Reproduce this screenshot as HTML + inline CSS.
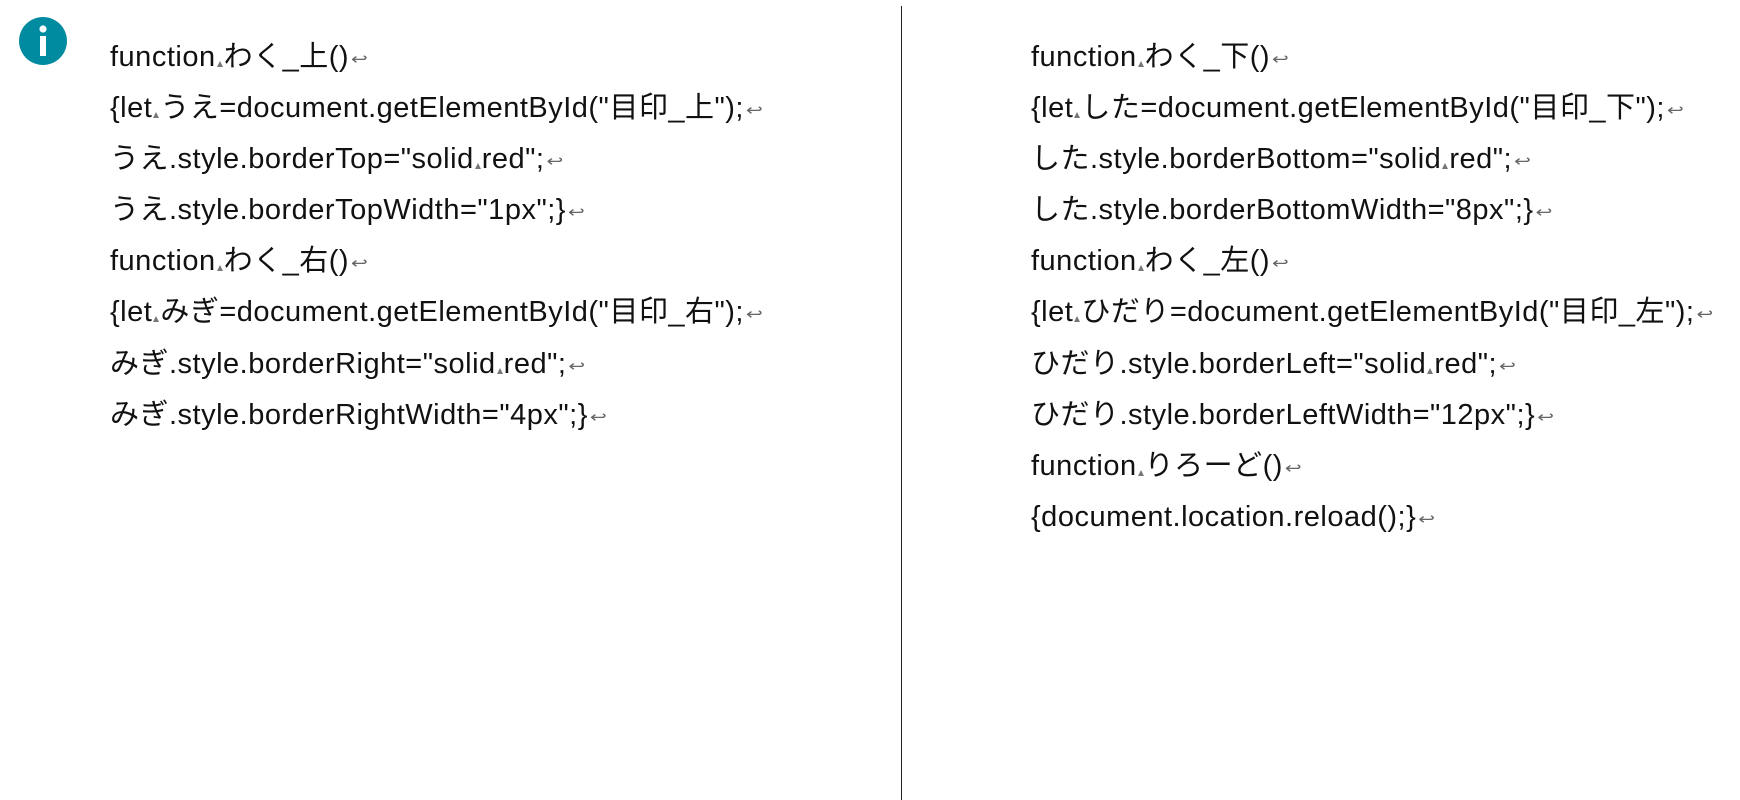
<!DOCTYPE html>
<html><head><meta charset="utf-8"><style>
html,body{margin:0;padding:0;background:#fff;width:1740px;height:800px;overflow:hidden;position:relative}
.col{position:absolute;top:33px;font-family:"Liberation Sans","Noto Sans CJK JP",sans-serif;font-size:29px;line-height:49.1px;letter-spacing:0.5px;color:#111;white-space:nowrap}
.s{display:inline-block;width:0;height:0;border-left:3px solid transparent;border-right:3px solid transparent;border-bottom:6px solid #777;margin:0 1px 0 1px;vertical-align:-1px}
.r{color:#666;font-family:"DejaVu Sans",sans-serif;font-size:20px;margin-left:2px;display:inline-block;transform:scaleY(0.8)}
</style></head><body>
<svg style="position:absolute;left:0;top:0" width="100" height="90"><circle cx="43" cy="41" r="24" fill="#008ba0"/><rect x="40" y="36" width="6" height="20" fill="#fff"/><circle cx="43" cy="29" r="3.6" fill="#fff"/></svg>
<div style="position:absolute;left:901px;top:6px;width:1px;height:794px;background:#222"></div>
<div class="col" style="left:110px">
function<span class="s"></span>わく_上()<span class="r">↩</span><br>
{let<span class="s"></span>うえ=document.getElementById("目印_上");<span class="r">↩</span><br>
うえ.style.borderTop="solid<span class="s"></span>red";<span class="r">↩</span><br>
うえ.style.borderTopWidth="1px";}<span class="r">↩</span><br>
function<span class="s"></span>わく_右()<span class="r">↩</span><br>
{let<span class="s"></span>みぎ=document.getElementById("目印_右");<span class="r">↩</span><br>
みぎ.style.borderRight="solid<span class="s"></span>red";<span class="r">↩</span><br>
みぎ.style.borderRightWidth="4px";}<span class="r">↩</span>
</div>
<div class="col" style="left:1031px">
function<span class="s"></span>わく_下()<span class="r">↩</span><br>
{let<span class="s"></span>した=document.getElementById("目印_下");<span class="r">↩</span><br>
した.style.borderBottom="solid<span class="s"></span>red";<span class="r">↩</span><br>
した.style.borderBottomWidth="8px";}<span class="r">↩</span><br>
function<span class="s"></span>わく_左()<span class="r">↩</span><br>
{let<span class="s"></span>ひだり=document.getElementById("目印_左");<span class="r">↩</span><br>
ひだり.style.borderLeft="solid<span class="s"></span>red";<span class="r">↩</span><br>
ひだり.style.borderLeftWidth="12px";}<span class="r">↩</span><br>
function<span class="s"></span>りろーど()<span class="r">↩</span><br>
{document.location.reload();}<span class="r">↩</span>
</div>
</body></html>
